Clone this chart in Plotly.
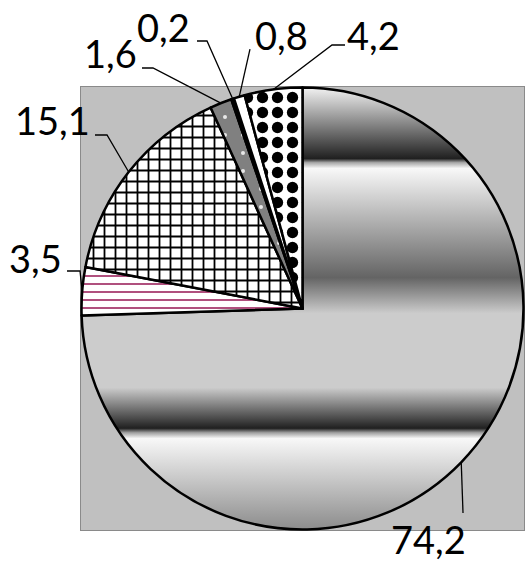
import base64
import math
import plotly.graph_objects as go

# slice values, clockwise from 12 o'clock
values = [74.2, 3.5, 15.1, 1.6, 0.2, 0.8, 4.2]
slice_names = ["74,2", "3,5", "15,1", "1,6", "0,2", "0,8", "4,2"]

# label placement (pixel centres) and leader lines (start, elbow) in pixels
label_pos = [(428, 539), (35, 258), (52, 120), (110, 53), (163, 27), (281, 35), (373, 35)]
leader_start = [(463, 513), (67, 271), (95, 135), (142, 68), (197, 41), (250, 49), (345, 45)]
leader_elbow = [None, (80, 271), (107, 135), (153, 68), (207, 41), None, (332, 45)]

W, H = 526, 563
L, R, T, B = 80, 1, 86, 32
PW, PH = W - L - R, H - T - B  # 445 x 445 plot box
PIE_R = 221
pad = (PW - 2 * PIE_R) / 2 / PW


def to_paper(px, py):
    return (px - L) / PW, 1 - (py - T) / PH


# gradient used for the big slice (the pie slice itself is left transparent)
stops = [
    (0.0, "#f2f2f2"), (0.161, "#202020"), (0.170, "#a8a8a8"), (0.183, "#f8f8f8"),
    (0.430, "#646464"), (0.511, "#cccccc"), (0.679, "#cccccc"), (0.771, "#202020"),
    (0.781, "#a0a0a0"), (0.794, "#f8f8f8"), (1.0, "#8c8c8c"),
]
stop_xml = "".join(f'<stop offset="{o}" stop-color="{c}"/>' for o, c in stops)
svg = (
    f'<svg xmlns="http://www.w3.org/2000/svg" width="{PW}" height="{PH}" viewBox="0 0 {PW} {PH}">'
    f'<defs><linearGradient id="g" x1="0" y1="0" x2="0" y2="1">{stop_xml}</linearGradient></defs>'
    f'<rect x="0.5" y="0.5" width="{PW - 1}" height="{PH - 1}" fill="#c0c0c0" stroke="#8a8a8a" stroke-width="1"/>'
    f'<circle cx="{PW / 2}" cy="{PH / 2}" r="{PIE_R}" fill="url(#g)"/>'
    "</svg>"
)
svg_src = "data:image/svg+xml;base64," + base64.b64encode(svg.encode()).decode()

fig = go.Figure()
fig.add_trace(go.Pie(
    values=values,
    labels=slice_names,
    sort=False,
    direction="clockwise",
    rotation=0,
    textinfo="none",
    hoverinfo="label",
    showlegend=False,
    domain=dict(x=[pad, 1 - pad], y=[pad, 1 - pad]),
    marker=dict(
        colors=["rgba(0,0,0,0)", "white", "white", "#808080", "black", "white", "white"],
        line=dict(color="black", width=2.5),
        pattern=dict(
            shape=["", "-", "+", ".", "", "", "."],
            fgcolor=["black", "#b0507e", "black", "#e8e8e8", "black", "black", "black"],
            bgcolor=["rgba(0,0,0,0)", "white", "white", "#808080", "black", "white", "white"],
            size=[10, 8, 11, 18, 10, 10, 15],
            solidity=[0.3, 0.25, 0.3, 0.04, 0.3, 0.3, 0.45],
            fillmode="replace",
        ),
    ),
))

# leader lines end on the slice edge at each slice's mid angle
total = sum(values)
cx, cy = L + PW / 2, T + PH / 2
shapes = []
cum = 0
for i, v in enumerate(values):
    ang = 2 * math.pi * (cum + v / 2) / total
    cum += v
    end = (cx + PIE_R * math.sin(ang), cy - PIE_R * math.cos(ang))
    pts = [leader_start[i]] + ([leader_elbow[i]] if leader_elbow[i] else []) + [end]
    pp = [to_paper(*p) for p in pts]
    path = "M " + " L ".join(f"{x:.4f},{y:.4f}" for x, y in pp)
    shapes.append(dict(type="path", xref="paper", yref="paper", path=path,
                       line=dict(color="black", width=1.3), layer="above"))

annotations = []
for name, (px, py) in zip(slice_names, label_pos):
    x, y = to_paper(px, py)
    annotations.append(dict(text=name, x=x, y=y, xref="paper", yref="paper",
                            xanchor="center", yanchor="middle", showarrow=False,
                            borderpad=0,
                            font=dict(family="Lato", size=38, color="black")))

fig.update_layout(
    width=W,
    height=H,
    margin=dict(l=L, r=R, t=T, b=B),
    paper_bgcolor="white",
    plot_bgcolor="white",
    shapes=shapes,
    annotations=annotations,
    images=[dict(source=svg_src, xref="paper", yref="paper", x=0, y=1,
                 sizex=1, sizey=1, xanchor="left", yanchor="top",
                 sizing="stretch", layer="below")],
)

# page body has a default 8px margin; drop it so the figure sits at the window corner
fig.write_html("out.html", config={"displayModeBar": False},
               post_script="document.body.style.margin = '0';")
